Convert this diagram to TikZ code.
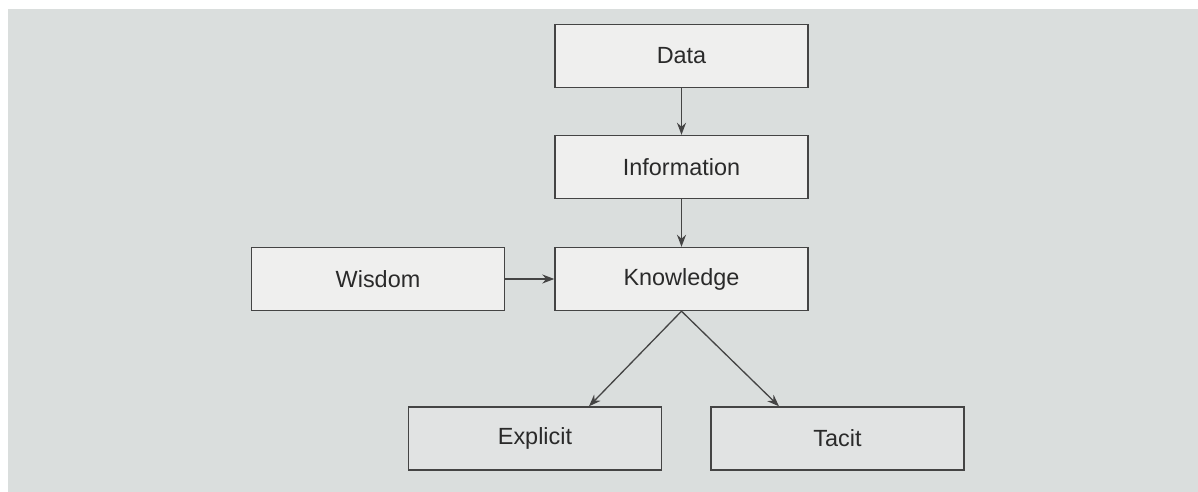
\documentclass[tikz,border=0pt]{standalone}
\usepackage{fontspec}
\setmainfont{Liberation Sans}
\usetikzlibrary{arrows.meta}
\definecolor{panel}{HTML}{DADEDD}
\definecolor{boxfill}{HTML}{EFEFEE}
\definecolor{boxfilldark}{HTML}{E1E3E3}
\definecolor{edge}{HTML}{444444}
\definecolor{ink}{HTML}{2A2A2A}
\begin{document}
\begin{tikzpicture}[x=1bp,y=-1bp,
  conceptbox/.style={draw=edge, line width=1.4bp, fill=boxfill, minimum width=253bp,
    minimum height=63bp, inner sep=0pt, text=ink,
    font=\fontsize{23.5}{28}\selectfont},
  leafbox/.style={conceptbox, fill=boxfilldark},
  link/.style={draw=edge, line width=1.3bp, -{Stealth[length=12bp,width=9bp]}}]
  % page and grey panel
  \useasboundingbox (0,0) rectangle (1198,492);
  \fill[white] (0,0) rectangle (1198,492);
  \fill[panel] (8,9) rectangle (1198,492);
  % concept boxes
  \node[conceptbox] (data) at (681.5,56) {Data};
  \node[conceptbox] (info) at (681.5,167) {Information};
  \node[conceptbox] (know) at (681.5,279) {Knowledge};
  \node[conceptbox] (wis)  at (378,279) {Wisdom};
  \node[leafbox] (expl) at (535,438.5) {Explicit};
  \node[leafbox] (tacit) at (837.5,438.5) {Tacit};
  % connectors
  \draw[link] (data) -- (info);
  \draw[link] (info) -- (know);
  \draw[link] (wis) -- (know);
  \draw[link] (know.south) -- (expl.north -| 589,0);
  \draw[link] (know.south) -- (tacit.north -| 779,0);
\end{tikzpicture}
\end{document}
